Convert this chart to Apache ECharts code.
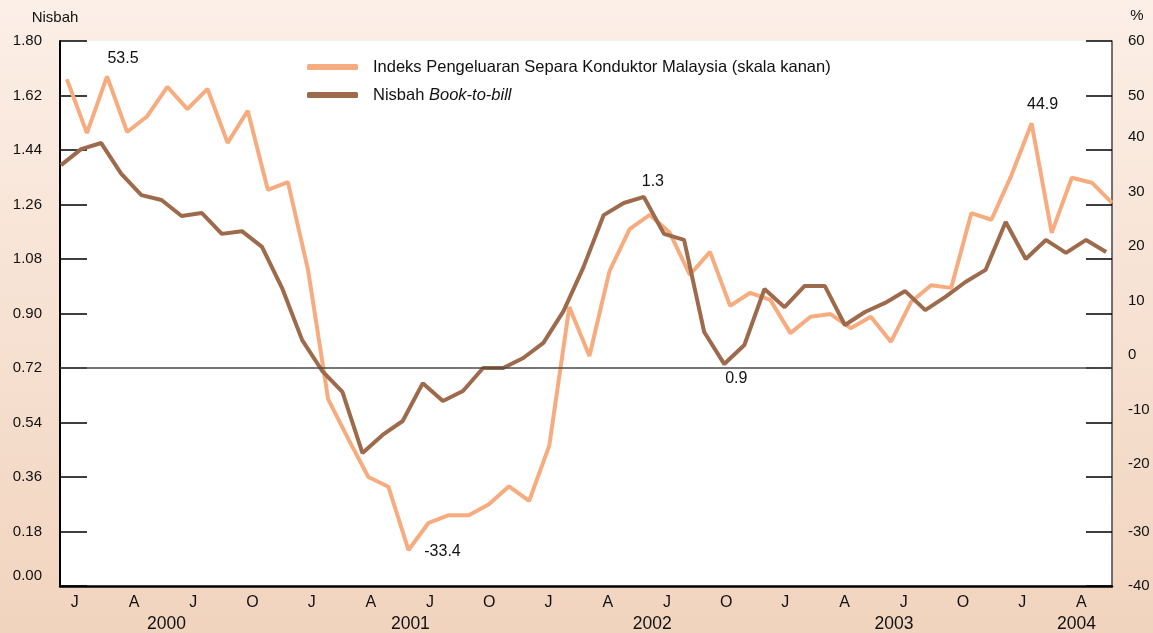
<!DOCTYPE html>
<html>
<head>
<meta charset="utf-8">
<title>Indeks Pengeluaran Separa Konduktor dan Nisbah Book-to-bill</title>
<script src="https://cdn.jsdelivr.net/npm/echarts@6.0.0/dist/echarts.min.js"></script>
<style>
  html, body { margin: 0; padding: 0; }
  #chart { width: 1153px; height: 633px; }
</style>
</head>
<body>
<div id="chart"></div>
<script>
// bulanan, Jan 2000 - Mei 2004
const monthInitials = ['J', 'F', 'M', 'A', 'M', 'J', 'J', 'A', 'S', 'O', 'N', 'D'];
const years = ['2000', '2001', '2002', '2003', '2004'];
const monthCount = 53;

// label tahun, diletak di bawah bulan tertentu (indeks bulan)
const yearTicks = ['2000', '2001', '2002', '2003', '2004'];
const yearTickMonth = [5, 17, 29, 41, 51];

// Indeks Pengeluaran Separa Konduktor Malaysia, % (skala kanan)
const semiIndex = [
  53.0, 43.1, 53.5, 43.3, 46.2, 51.6, 47.5, 51.2, 41.3, 47.2, 32.7, 34.1,
  18.0, -5.7, -13.0, -20.0, -21.8, -33.4, -28.4, -27.0, -27.0, -25.0, -21.7, -24.4,
  -14.3, 11.2, 2.2, 17.8, 25.5, 28.1, 24.8, 17.1, 21.3, 11.4, 13.8, 12.5,
  6.4, 9.4, 9.9, 7.3, 9.4, 4.8, 12.1, 15.2, 14.7, 28.4, 27.2, 35.4,
  44.9, 24.8, 34.9, 34.0, 30.3
];

// Nisbah book-to-bill (skala kiri)
const bookToBill = [
  1.390, 1.443, 1.463, 1.361, 1.291, 1.275, 1.222, 1.232, 1.163, 1.172, 1.120, 0.984,
  0.812, 0.710, 0.641, 0.439, 0.499, 0.545, 0.670, 0.611, 0.644, 0.720, 0.720, 0.753,
  0.803, 0.908, 1.054, 1.225, 1.265, 1.285, 1.163, 1.143, 0.839, 0.733, 0.796, 0.981,
  0.921, 0.991, 0.991, 0.862, 0.905, 0.935, 0.974, 0.911, 0.955, 1.004, 1.044, 1.202,
  1.080, 1.143, 1.100, 1.143, 1.103
];

// titik yang dilabel: [indeks bulan, teks]
const semiNotes = [[2, '53.5'], [17, '-33.4'], [48, '44.9']];
const btbNotes = [[29, '1.3'], [33, '0.9']];

const semiName = 'Indeks Pengeluaran Separa Konduktor Malaysia (skala kanan)';
const btbName = 'Nisbah Book-to-bill';

const categories = [];
for (let i = 0; i < monthCount; i++) {
  categories.push(monthInitials[i % 12] + ' ' + years[Math.floor(i / 12)]);
}

const font = '"Liberation Sans", Arial, sans-serif';
const ink = '#111';
const orange = '#f7ac80';
const brown = '#9d6a4b';

const chart = echarts.init(document.getElementById('chart'));

chart.setOption({
  animation: false,
  backgroundColor: {
    type: 'linear', x: 0, y: 0, x2: 0, y2: 1,
    colorStops: [
      { offset: 0, color: '#fcefe7' },
      { offset: 1, color: '#f1d4be' }
    ]
  },
  textStyle: { fontFamily: font, color: ink },
  grid: [
    { left: 60, right: 41, top: 41, bottom: 47, show: true, backgroundColor: '#ffffff', borderWidth: 0 },
    // grid untuk label paksi bulan/tahun sahaja
    { left: 65, width: 1046, top: 41, bottom: 47 }
  ],
  legend: {
    left: 307,
    top: 58,
    padding: 0,
    orient: 'vertical',
    icon: 'roundRect',
    itemWidth: 51,
    itemHeight: 6,
    itemGap: 10,
    selectedMode: false,
    data: [semiName, btbName],
    formatter: function (name) {
      return name === btbName ? '{n|Nisbah }{i|Book-to-bill}' : name;
    },
    textStyle: {
      fontSize: 16.5,
      color: ink,
      lineHeight: 18,
      padding: [0, 0, 0, 10],
      rich: {
        n: { fontSize: 16.5, color: ink },
        i: { fontSize: 16.5, color: ink, fontStyle: 'italic' }
      }
    }
  },
  xAxis: [
    {
      // untuk siri separa konduktor
      type: 'value', gridIndex: 0, position: 'bottom', min: -0.34, max: 52,
      axisLine: { show: true, onZero: false, lineStyle: { color: '#000', width: 2.5 } },
      axisTick: { show: false },
      axisLabel: { show: false },
      splitLine: { show: false }
    },
    {
      // untuk siri book-to-bill
      type: 'value', gridIndex: 0, position: 'bottom', min: -0.05, max: 52.29, show: false
    },
    {
      type: 'category', gridIndex: 1, position: 'bottom', data: categories, boundaryGap: true,
      axisLine: { show: false, onZero: false },
      axisTick: { show: false },
      splitLine: { show: false },
      axisLabel: {
        interval: 2,
        margin: 10,
        fontSize: 16,
        color: ink,
        formatter: function (v) { return v.split(' ')[0]; }
      }
    },
    {
      type: 'category', gridIndex: 1, position: 'bottom', offset: 20, data: categories, boundaryGap: true,
      axisLine: { show: false, onZero: false },
      axisTick: { show: false },
      splitLine: { show: false },
      axisLabel: {
        interval: 0,
        margin: 10,
        fontSize: 17.5,
        color: ink,
        formatter: function (v, i) {
          const k = yearTickMonth.indexOf(i);
          if (k < 0) return '';
          return '{y' + k + '|' + yearTicks[k] + '}';
        },
        rich: {
          y0: { fontSize: 17.5, color: ink, padding: [0, 14, 0, 0] },
          y1: { fontSize: 17.5, color: ink },
          y2: { fontSize: 17.5, color: ink, padding: [0, 0, 0, 10] },
          y3: { fontSize: 17.5, color: ink, padding: [0, 0, 0, 20] },
          y4: { fontSize: 17.5, color: ink, padding: [0, 10, 0, 0] }
        }
      }
    }
  ],
  yAxis: [
    {
      type: 'value', gridIndex: 0, position: 'left', min: 0, max: 1.8, interval: 0.18,
      name: 'Nisbah', nameLocation: 'end', nameGap: 16,
      nameTextStyle: { fontSize: 15, color: ink, padding: [0, 10, 0, 0] },
      axisLine: { show: true, onZero: false, lineStyle: { color: '#000', width: 2 } },
      axisTick: { show: true, inside: true, length: 27, lineStyle: { color: '#000', width: 1.5 } },
      splitLine: { show: false },
      axisLabel: {
        margin: 18, fontSize: 15, color: ink,
        formatter: function (v) {
          const s = v.toFixed(2);
          return v === 0 ? '{d|' + s + '}' : s;
        },
        rich: { d: { fontSize: 15, color: ink, padding: [0, 0, 20, 0] } }
      }
    },
    {
      type: 'value', gridIndex: 0, position: 'right', min: -40, max: 60, interval: 10,
      name: '%', nameLocation: 'end', nameGap: 18,
      nameTextStyle: { fontSize: 15, color: ink, padding: [0, 0, 0, 50] },
      axisLine: { show: true, onZero: false, lineStyle: { color: '#444', width: 1.5 } },
      axisTick: { show: true, inside: true, length: 26, lineStyle: { color: '#000', width: 1.5 } },
      splitLine: { show: false },
      axisLabel: {
        margin: 16, fontSize: 15, color: ink,
        formatter: function (v) {
          return (v <= 40 && v >= -20) ? '{u|' + v + '}' : String(v);
        },
        rich: { u: { fontSize: 15, color: ink, padding: [0, 0, 26, 0] } }
      }
    },
    { type: 'value', gridIndex: 1, show: false }
  ],
  series: [
    {
      name: semiName,
      type: 'line',
      xAxisIndex: 0,
      yAxisIndex: 1,
      data: semiIndex.map(function (v, i) { return [i, v]; }),
      symbol: 'none',
      lineStyle: { color: orange, width: 4 },
      itemStyle: { color: orange },
      markLine: {
        silent: true,
        symbol: 'none',
        label: { show: false },
        lineStyle: { color: '#4a4a4a', width: 1.5, type: 'solid' },
        data: [{ yAxis: 0 }]
      },
      markPoint: {
        symbol: 'circle',
        symbolSize: 1,
        silent: true,
        itemStyle: { color: 'rgba(0,0,0,0)' },
        label: { show: true, position: 'inside', fontSize: 16, color: ink, formatter: function (p) { return p.name; } },
        data: semiNotes.map(function (n, k) {
          const offs = [[16, -18], [34, 2], [11, -19]];
          return { name: n[1], coord: [n[0], semiIndex[n[0]]], label: { offset: offs[k] } };
        })
      }
    },
    {
      name: btbName,
      type: 'line',
      xAxisIndex: 1,
      yAxisIndex: 0,
      data: bookToBill.map(function (v, i) { return [i, v]; }),
      symbol: 'none',
      lineStyle: { color: brown, width: 4 },
      itemStyle: { color: brown },
      markPoint: {
        symbol: 'circle',
        symbolSize: 1,
        silent: true,
        itemStyle: { color: 'rgba(0,0,0,0)' },
        label: { show: true, position: 'inside', fontSize: 16, color: ink, formatter: function (p) { return p.name; } },
        data: btbNotes.map(function (n, k) {
          const offs = [[9, -15], [12, 15]];
          return { name: n[1], coord: [n[0], bookToBill[n[0]]], label: { offset: offs[k] } };
        })
      }
    }
  ]
});
</script>
</body>
</html>
